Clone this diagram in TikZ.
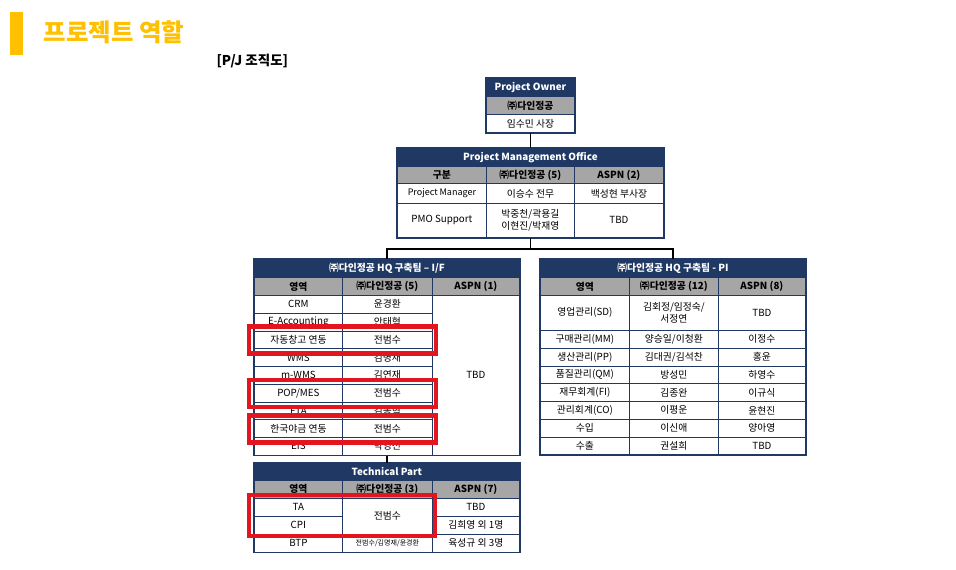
\documentclass[tikz,border=0pt]{standalone}
\usepackage{fontspec}
\setmainfont{Noto Sans CJK KR}
\definecolor{navy}{HTML}{1F3864}
\definecolor{hdrgray}{HTML}{A6A6A6}
\definecolor{titlegold}{HTML}{FFC000}
\definecolor{markred}{HTML}{E3161F}

\begin{document}
\begin{tikzpicture}[x=1pt, y=-1pt,
    bodycell/.style={draw=navy, line width=0.8pt, anchor=north west, inner sep=0pt,
      align=center, font=\fontsize{9.8}{11.5}\selectfont},
    hdrcell/.style={bodycell, fill=navy, text=white, minimum height=18,
      font=\bfseries\fontsize{9.8}{11}\selectfont},
    colcell/.style={bodycell, fill=hdrgray, minimum height=18,
      font=\bfseries\fontsize{9.8}{11}\selectfont},
    tblframe/.style={draw=navy, line width=1.6pt},
    link/.style={draw=black, line width=1.4pt},
    redbox/.style={draw=markred, line width=4.5pt}]
  \useasboundingbox (0,0) rectangle (956,570);

  % title
  \fill[titlegold] (10,12) rectangle (23,55);
  \node[anchor=west, text=titlegold, font=\bfseries\fontsize{24.5}{28}\selectfont] (title) at (40,32) {프로젝트 역할};
  \node[anchor=west, font=\bfseries\fontsize{13.5}{15}\selectfont] (subtitle) at (213,61) {[P/J 조직도]};

  % project owner
  \node[hdrcell, minimum width=88] (po-h) at (486,78) {Project Owner};
  \node[colcell, minimum width=88] (po-c) at (486,96) {㈜다인정공};
  \node[bodycell, minimum width=88, minimum height=18] (po-n) at (486,114) {임수민 사장};
  \draw[tblframe] (po-h.north west) rectangle (po-n.south east);

  % project management office
  \node[hdrcell, minimum width=266] (pmo-h) at (397,148) {Project Management Office};
  \foreach \x/\w/\t/\k in {397/89/구분/a, 486/88/{㈜다인정공 (5)}/b, 574/89/{ASPN (2)}/c} {
    \node[colcell, minimum width=\w, minimum height=17] (pmo-\k0) at (\x,166) {\t};
  }
  \node[bodycell, minimum width=89, minimum height=20, font=\fontsize{9}{10}\selectfont] (pmo-a1) at (397,183) {Project Manager};
  \node[bodycell, minimum width=88, minimum height=20] (pmo-b1) at (486,183) {이승수 전무};
  \node[bodycell, minimum width=89, minimum height=20] (pmo-c1) at (574,183) {백성현 부사장};
  \node[bodycell, minimum width=89, minimum height=34] (pmo-a2) at (397,203) {PMO Support};
  \node[bodycell, minimum width=88, minimum height=34] (pmo-b2) at (486,203) {박중천/곽용길\\이현진/박재영};
  \node[bodycell, minimum width=89, minimum height=34] (pmo-c2) at (574,203) {TBD};
  \draw[tblframe] (pmo-h.north west) rectangle (pmo-c2.south east);

  % HQ team - I/F
  \node[hdrcell, minimum width=265] (if-h) at (254,259) {㈜다인정공 HQ 구축팀 – I/F};
  \foreach \x/\w/\t/\k in {254/88/영역/a, 342/90/{㈜다인정공 (5)}/b, 432/87/{ASPN (1)}/c} {
    \node[colcell, minimum width=\w] (if-\k0) at (\x,277) {\t};
  }
  \foreach \a/\b/\i in {CRM/윤경환/1, E-Accounting/안태혁/2, 자동창고 연동/전범수/3,
      WMS/김명재/4, m-WMS/김연재/5, {POP/MES}/전범수/6, FTA/김동혁/7,
      한국야금 연동/전범수/8, EIS/박영선/9} {
    \node[bodycell, minimum width=88, minimum height=17.75] (if-a\i) at (254,{295+(\i-1)*17.75}) {\a};
    \node[bodycell, minimum width=90, minimum height=17.75] (if-b\i) at (342,{295+(\i-1)*17.75}) {\b};
  }
  \node[bodycell, minimum width=87, minimum height=159.75] (if-c) at (432,295) {TBD};
  \draw[tblframe] (if-h.north west) rectangle (if-c.south east);

  % technical part
  \node[hdrcell, minimum width=265, minimum height=17] (tp-h) at (254,463) {Technical Part};
  \foreach \x/\w/\t/\k in {254/88/영역/a, 342/90/{㈜다인정공 (3)}/b, 432/87/{ASPN (7)}/c} {
    \node[colcell, minimum width=\w, minimum height=17.5] (tp-\k0) at (\x,480) {\t};
  }
  \foreach \a/\c/\i in {TA/TBD/1, CPI/김희영 외 1명/2, BTP/육성규 외 3명/3} {
    \node[bodycell, minimum width=88, minimum height=18] (tp-a\i) at (254,{497.5+(\i-1)*18}) {\a};
    \node[bodycell, minimum width=87, minimum height=18] (tp-c\i) at (432,{497.5+(\i-1)*18}) {\c};
  }
  \node[bodycell, minimum width=90, minimum height=36] (tp-b1) at (342,497.5) {전범수};
  \node[bodycell, minimum width=90, minimum height=18, font=\fontsize{7}{8}\selectfont] (tp-b3) at (342,533.5) {전범수/김명재/윤경환};
  \draw[tblframe] (tp-h.north west) rectangle (tp-c3.south east);

  % HQ team - PI
  \node[hdrcell, minimum width=265] (pi-h) at (540,259) {㈜다인정공 HQ 구축팀 - PI};
  \foreach \x/\w/\t/\k in {540/89/영역/a, 629/89/{㈜다인정공 (12)}/b, 718/87/{ASPN (8)}/c} {
    \node[colcell, minimum width=\w] (pi-\k0) at (\x,277) {\t};
  }
  \node[bodycell, minimum width=89, minimum height=35] (pi-a1) at (540,295) {영업관리(SD)};
  \node[bodycell, minimum width=89, minimum height=35] (pi-b1) at (629,295) {김회정/임정숙/\\서정연};
  \node[bodycell, minimum width=87, minimum height=35] (pi-c1) at (718,295) {TBD};
  \foreach \a/\b/\c/\i in {구매관리(MM)/{양승일/이청환}/이정수/2, 생산관리(PP)/{김대권/김석찬}/홍윤/3,
      품질관리(QM)/방성민/하영수/4, 재무회계(FI)/김종완/이규식/5, 관리회계(CO)/이평운/윤현진/6,
      수입/이신애/양아영/7, 수출/권설희/TBD/8} {
    \node[bodycell, minimum width=89, minimum height=17.75] (pi-a\i) at (540,{330+(\i-2)*17.75}) {\a};
    \node[bodycell, minimum width=89, minimum height=17.75] (pi-b\i) at (629,{330+(\i-2)*17.75}) {\b};
    \node[bodycell, minimum width=87, minimum height=17.75] (pi-c\i) at (718,{330+(\i-2)*17.75}) {\c};
  }
  \draw[tblframe] (pi-h.north west) rectangle (pi-c8.south east);

  % connectors
  \draw[link] (po-n.south) -- (pmo-h.north);
  \draw[link] (pmo-b2.south) -- ++(0,11) coordinate (split);
  \draw[link] (split) -| (if-h.north);
  \draw[link] (split) -| (pi-h.north);
  \draw[link] (if-h.center |- if-c.south) -- (tp-h.north);

  % highlights
  \foreach \i in {3,6,8} {
    \draw[redbox] ([shift={(-5,-4)}]if-a\i.north west) rectangle ([shift={(3,4.5)}]if-b\i.south east);
  }
  \draw[redbox] ([shift={(-5,-2.5)}]tp-a1.north west) rectangle ([shift={(2,1.5)}]tp-b1.south east);
\end{tikzpicture}
\end{document}
